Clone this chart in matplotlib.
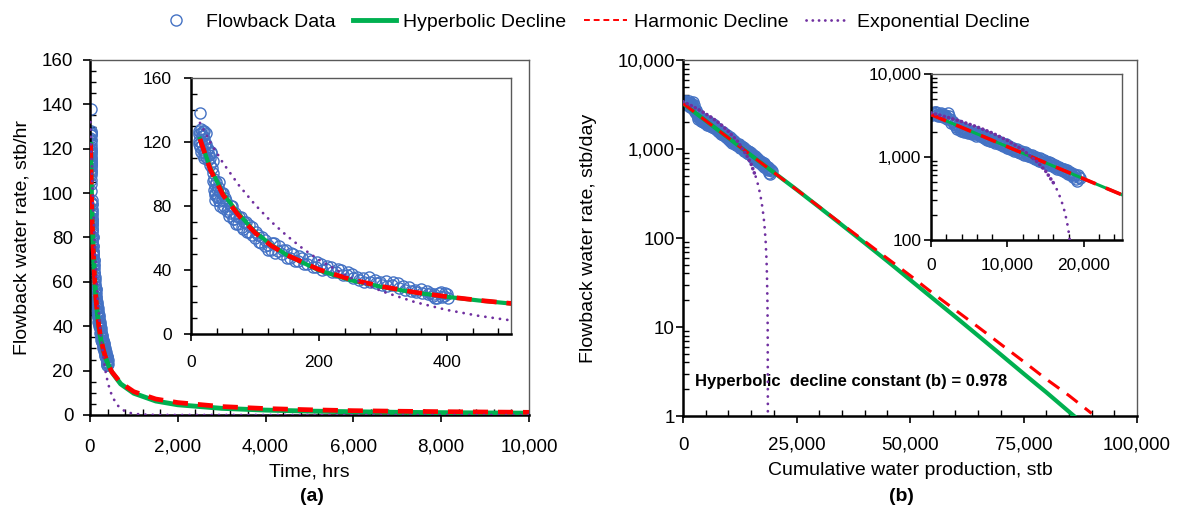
import matplotlib
matplotlib.use('Agg')
import matplotlib.pyplot as plt
from matplotlib.lines import Line2D
from matplotlib.ticker import MultipleLocator, StrMethodFormatter, LogLocator, NullFormatter

plt.rcParams['font.family'] = ['Liberation Sans', 'DejaVu Sans']

# flowback data: rate (stb/hr) vs time (hrs)
time_hr = [12, 12, 13, 13, 14, 14, 15, 15, 16, 16, 17, 17, 18, 18, 19, 19, 20, 20, 21, 22,
           22, 23, 24, 24, 25, 26, 27, 28, 29, 30, 31, 32, 33, 34, 35, 35, 36, 36, 37, 37,
           38, 38, 39, 40, 40,
           42, 42, 44, 44, 46, 46, 48, 48, 50, 50, 52, 53, 55, 56, 58, 59, 61, 62, 64, 65,
           67, 68, 70, 71, 74, 75, 78, 79, 82, 83, 86, 87, 90, 91, 95, 96, 100, 101,
           105, 106, 110, 111, 115, 116, 120, 121, 125, 127, 130, 132, 136, 138, 142, 144, 148, 150,
           154, 156, 160, 162, 167, 169, 174, 176, 181, 183, 188, 190, 195, 197, 203, 205,
           211, 213, 219, 221, 227, 229, 235, 237, 243, 245, 251, 253, 260, 262, 269, 271,
           278, 280, 287, 289, 296, 298,
           305, 307, 314, 316, 323, 325, 332, 334, 341, 343, 350, 352, 359, 361, 368, 370,
           374, 378, 380, 382, 385, 387, 390, 392, 395, 397, 400, 402]
rate_hr = [125, 119, 121, 127, 138, 117, 128, 114, 126, 120, 118, 124, 124, 112, 115, 127, 127, 110, 122, 113,
           119, 126, 119, 111, 116, 116, 109, 112, 106, 110, 113, 114, 104, 108, 101, 96, 97, 90, 93, 87,
           88, 84, 95, 91, 86,
           86, 92, 95, 83, 89, 80, 84, 88, 88, 79, 80, 85, 83, 77, 78, 74, 76, 80, 80, 72,
           72, 76, 74, 69, 69, 73, 73, 67, 66, 70, 70, 64, 64, 68, 67, 62, 60, 64,
           62, 58, 57, 61, 59, 55, 56, 53, 53, 57, 57, 51, 52, 55, 50, 53, 53, 48,
           48, 51, 50, 46, 46, 49, 48, 44, 44, 47, 46, 42, 42, 45, 44, 40,
           41, 43, 42, 39, 39, 41, 40, 37, 37, 39, 38, 35, 36, 34, 35.5, 33,
           36, 33, 34, 32, 33, 31,
           33.5, 30, 31, 32.5, 32, 29, 30, 28, 29.5, 27, 28, 26.5, 28.5, 26, 27, 25.5,
           26, 24, 25, 22.5, 22.5, 26, 26.5, 23.5, 24, 26, 25, 23]

# fitted declines: rate (stb/hr) vs time (hrs)
fit_time = [14, 30, 50, 75, 100, 125, 150, 200, 250, 300, 350, 400, 450, 500, 700, 1000,
            1500, 2000, 3000, 4000, 5000, 6000, 7000, 8000, 9000, 10000]
hyp_rate_hr = [122, 104, 88, 75, 64, 56, 49.5, 40, 33.8, 29.5, 26.2, 23.5, 21.2, 19.3, 14, 9.8,
               6.3, 4.6, 3.0, 2.2, 1.75, 1.45, 1.2, 1.05, 0.92, 0.82]
harm_rate_hr = [122, 103, 87, 74, 63.5, 55.5, 49.5, 40.5, 34.3, 29.8, 26.3, 23.6, 21.3, 19.4, 14.5, 10.5,
                7.2, 5.6, 3.8, 2.9, 2.35, 1.95, 1.7, 1.5, 1.35, 1.2]
exp_time = [14, 30, 50, 75, 100, 125, 150, 175, 200, 250, 300, 350, 400, 450, 500, 600, 700, 800,
            900, 1000, 1200, 1500, 2000, 3000, 4000, 5000, 6000, 7000, 8000, 9000, 10000]
exp_rate_hr = [132, 120, 107, 93, 81, 70.5, 61.5, 53.5, 46.5, 35.2, 26.7, 20.2, 15.3, 11.6, 8.8, 5.0, 2.9, 1.7,
               1.0, 0.55, 0.2, 0.04, 0, 0, 0, 0, 0, 0, 0, 0, 0]

# flowback data: rate (stb/day) vs cumulative production (stb)
cum_stb = [250, 500, 750, 1000, 1250, 1500, 1750, 2000, 2250, 2500,
           2750, 3000, 3250, 3500, 3750, 4000, 4250, 4500, 4750, 5000,
           5250, 5500, 5750, 6000, 6250, 6500, 6750, 7000, 7250, 7500,
           7750, 8000, 8250, 8500, 8750, 9000, 9250, 9500, 9750, 10000,
           10250, 10500, 10750, 11000, 11250, 11500, 11750, 12000, 12250, 12500,
           12750, 13000, 13250, 13500, 13750, 14000, 14250, 14500, 14750, 15000,
           15250, 15500, 15750, 16000, 16250, 16500, 16750, 17000, 17250, 17500,
           17750, 18000, 18250, 18500, 18750, 19000, 19250, 19500,
           125, 375, 625, 875, 1125, 1375, 1625, 1875, 2125, 2375,
           2625, 2875, 3125, 3375, 3625, 3875, 4125, 4375, 4625, 4875,
           5125, 5375, 5625, 5875, 6125, 6375, 6625, 6875, 7125, 7375,
           7625, 7875, 8125, 8375, 8625, 8875, 9125, 9375, 9625, 9875,
           10125, 10375, 10625, 10875, 11125, 11375, 11625, 11875, 12125, 12375,
           12625, 12875, 13125, 13375, 13625, 13875, 14125, 14375, 14625, 14875,
           15125, 15375, 15625, 15875, 16125, 16375, 16625, 16875, 17125, 17375,
           17625, 17875, 18125, 18375, 18625, 18875, 19125, 19375]
rate_day = [3350, 3480, 3200, 3300, 3420, 3100, 3250, 3050, 3350, 2900,
            2750, 2500, 2300, 2420, 2150, 2250, 2050, 2180, 1980, 2080,
            1950, 2050, 1880, 1950, 1820, 1900, 1760, 1780, 1660, 1720,
            1580, 1650, 1560, 1500, 1540, 1440, 1480, 1380, 1420, 1320,
            1350, 1250, 1290, 1210, 1240, 1140, 1180, 1100, 1150, 1060,
            1090, 1020, 1050, 960, 1000, 930, 960, 880, 920, 850,
            880, 800, 840, 770, 800, 720, 760, 700, 720, 660,
            690, 640, 650, 600, 620, 540, 600, 560,
            3200, 3300, 3500, 3150, 3100, 3300, 3000, 3200, 2850, 3100,
            2600, 2650, 2400, 2200, 2300, 2080, 2200, 2000, 2120, 1950,
            2000, 1870, 1960, 1800, 1900, 1780, 1840, 1700, 1750, 1620,
            1680, 1560, 1600, 1480, 1520, 1420, 1460, 1360, 1400, 1300,
            1330, 1240, 1280, 1180, 1220, 1160, 1120, 1150, 1070, 1110,
            1030, 1070, 990, 1030, 950, 980, 900, 940, 870, 900,
            830, 860, 790, 820, 760, 780, 730, 740, 690, 710,
            670, 630, 660, 610, 580, 600, 520, 580]

# fitted declines: rate (stb/day) vs cumulative production (stb)
fit_cum = [0, 5000, 10000, 15000, 20000, 25000, 30000, 35000, 40000, 45000,
           50000, 55000, 60000, 65000, 70000, 75000, 80000, 85000, 90000]
harm_rate_day = [3250, 2080, 1330, 850, 545, 350, 224, 143, 92, 59,
                 38, 24, 15.5, 10, 6.4, 4.1, 2.6, 1.7, 1.07]
hyp_rate_day = [3250, 2080, 1330, 850, 545, 350, 222, 140, 88, 55,
                34, 21, 13, 8, 4.9, 3.0, 1.85, 1.12, 0.68]
exp_cum = [0, 2000, 4000, 6000, 8000, 10000, 12000, 14000, 15000, 16000,
           16500, 17000, 17500, 17800, 18000, 18200, 18400, 18500, 18600, 18650, 18700]
exp_rate_day = [3400, 3040, 2670, 2310, 1950, 1580, 1220, 855, 675, 490,
                400, 310, 218, 163, 127, 91, 55, 36, 18, 9, 0.5]

BLUE = '#4472C4'
GREEN = '#00B050'
RED = '#FF0000'
PURPLE = '#7030A0'


def style_axes(ax, labelsize, xpad, ypad):
    for s in ['left', 'bottom']:
        ax.spines[s].set_linewidth(1.8)
        ax.spines[s].set_color('black')
    for s in ['top', 'right']:
        ax.spines[s].set_linewidth(1.0)
        ax.spines[s].set_color('#595959')
    ax.tick_params(which='major', direction='out', length=5, width=1.2, labelsize=labelsize)
    ax.tick_params(which='minor', direction='in', length=4, width=1.0)
    ax.tick_params(axis='x', which='major', pad=xpad)
    ax.tick_params(axis='y', which='major', pad=ypad)
    ax.set_facecolor('white')


fig = plt.figure(figsize=(11.85, 5.15), dpi=100)

# ---- panel (a) ----
ax_a = fig.add_axes([0.0759, 0.1942, 0.3705, 0.6893])
ax_ai = fig.add_axes([0.1612, 0.3505, 0.270, 0.498])

for ax, lw_g, lw_r, lw_p in [(ax_a, 3.5, 3.4, 2.0), (ax_ai, 3.0, 3.4, 2.0)]:
    ax.plot(time_hr, rate_hr, 'o', mfc='none', mec=BLUE, ms=8, mew=1.0, zorder=2)
    ax.plot(fit_time, hyp_rate_hr, '-', color=GREEN, lw=lw_g, zorder=3)
    ax.plot(fit_time, harm_rate_hr, color=RED, lw=lw_r, ls=(0, (3.2, 2.1)), zorder=4)
    ax.plot(exp_time, exp_rate_hr, color=PURPLE, lw=lw_p, ls=(0, (0.05, 2.6)),
            dash_capstyle='round', zorder=5)

ax_a.set_xlim(0, 10000)
ax_a.set_ylim(0, 160)
ax_a.xaxis.set_major_locator(MultipleLocator(2000))
ax_a.xaxis.set_minor_locator(MultipleLocator(400))
ax_a.yaxis.set_major_locator(MultipleLocator(20))
ax_a.yaxis.set_minor_locator(MultipleLocator(5))
ax_a.xaxis.set_major_formatter(StrMethodFormatter('{x:,.0f}'))
style_axes(ax_a, 13.5, 12, 7)
ax_a.set_xlabel('Time, hrs', fontsize=14, labelpad=6)
ax_a.set_ylabel('Flowback water rate, stb/hr', fontsize=14)
ax_a.yaxis.set_label_coords(-0.135, 0.5)

ax_ai.set_xlim(0, 500)
ax_ai.set_ylim(0, 160)
ax_ai.xaxis.set_major_locator(MultipleLocator(200))
ax_ai.xaxis.set_minor_locator(MultipleLocator(40))
ax_ai.yaxis.set_major_locator(MultipleLocator(40))
ax_ai.yaxis.set_minor_locator(MultipleLocator(10))
style_axes(ax_ai, 12.5, 10, 9)
ax_ai.set_zorder(10)

# ---- panel (b) ----
ax_b = fig.add_axes([0.5764, 0.1922, 0.3831, 0.6913])
ax_bi = fig.add_axes([0.7857, 0.534, 0.1612, 0.3223])

n_dense = exp_cum.index(16000) + 1
for ax, lw_g, lw_r in [(ax_b, 3.0, 2.2), (ax_bi, 2.2, 2.6)]:
    ax.plot(cum_stb, rate_day, 'o', mfc='none', mec=BLUE, ms=8, mew=1.0, zorder=2)
    ax.plot(fit_cum, hyp_rate_day, '-', color=GREEN, lw=lw_g, zorder=3)
    ax.plot(fit_cum, harm_rate_day, color=RED, lw=lw_r, ls=(0, (4.5, 3)), zorder=4)
    ax.plot(exp_cum[:n_dense], exp_rate_day[:n_dense], color=PURPLE, lw=2.6,
            ls=(0, (0.05, 1.2)), dash_capstyle='round', zorder=5)
    ax.plot(exp_cum[n_dense - 1:], exp_rate_day[n_dense - 1:], color=PURPLE, lw=2.0,
            ls=(0, (0.05, 2.6)), dash_capstyle='round', zorder=5)
    ax.set_yscale('log')
    ax.yaxis.set_major_locator(LogLocator(base=10, numticks=10))
    ax.yaxis.set_minor_locator(LogLocator(base=10, subs=range(2, 10), numticks=10))
    ax.yaxis.set_minor_formatter(NullFormatter())
    ax.yaxis.set_major_formatter(StrMethodFormatter('{x:,.0f}'))
    ax.xaxis.set_major_formatter(StrMethodFormatter('{x:,.0f}'))

ax_b.set_xlim(0, 100000)
ax_b.set_ylim(1, 10000)
ax_b.xaxis.set_major_locator(MultipleLocator(25000))
ax_b.xaxis.set_minor_locator(MultipleLocator(5000))
style_axes(ax_b, 13.5, 10, 1)
ax_b.set_xlabel('Cumulative water production, stb', fontsize=14, labelpad=6)
ax_b.set_ylabel('Flowback water rate, stb/day', fontsize=14)
ax_b.yaxis.set_label_coords(-0.19, 0.5)
ax_b.text(2600, 2.45, 'Hyperbolic  decline constant (b) = 0.978', fontsize=12,
          fontweight='bold', ha='left', va='center')

ax_bi.set_xlim(0, 25000)
ax_bi.set_ylim(100, 10000)
ax_bi.xaxis.set_major_locator(MultipleLocator(10000))
ax_bi.xaxis.set_minor_locator(MultipleLocator(2000))
style_axes(ax_bi, 12.5, 8, 2)
ax_bi.set_zorder(10)

fig.text(0.263, 0.035, '(a)', fontsize=14, fontweight='bold', ha='center', va='center')
fig.text(0.761, 0.035, '(b)', fontsize=14, fontweight='bold', ha='center', va='center')

handles = [
    Line2D([], [], ls='none', marker='o', mfc='none', mec=BLUE, ms=8, mew=1.0),
    Line2D([], [], color=GREEN, lw=3.5),
    Line2D([], [], color=RED, lw=1.4, ls=(0, (3, 2))),
    Line2D([], [], color=PURPLE, lw=2.0, ls=(0, (0.05, 2.2)), dash_capstyle='round'),
]
labels = ['Flowback Data', 'Hyperbolic Decline', 'Harmonic Decline', 'Exponential Decline']
fig.legend(handles, labels, loc='center', bbox_to_anchor=(0.5, 0.957), ncol=4, frameon=False,
           fontsize=14, handlelength=2.2, handletextpad=0.4, columnspacing=0.9)

fig.savefig('out.png', dpi=100)
